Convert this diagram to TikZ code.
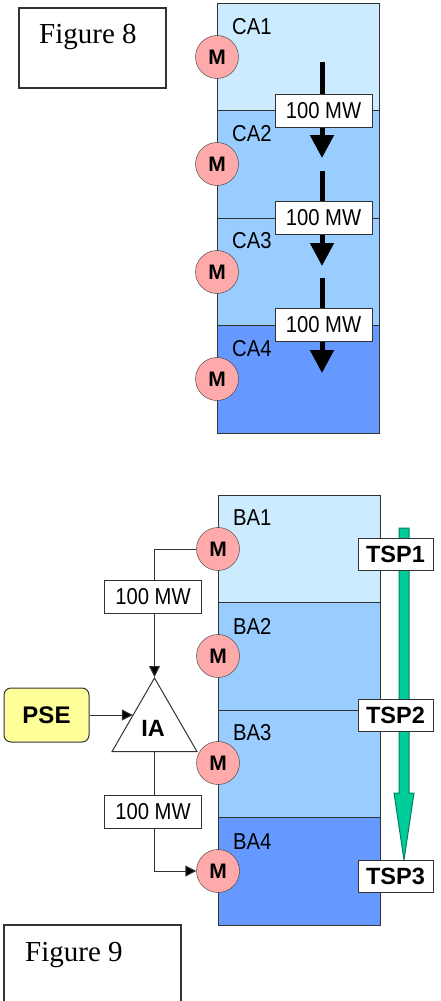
\documentclass[tikz,border=0pt]{standalone}
\usepackage{fontspec}
\setmainfont{Liberation Serif}
\setsansfont{Liberation Sans}
\newfontfamily\narrowsans[FakeStretch=0.88]{Liberation Sans}
\usetikzlibrary{arrows.meta,positioning,shapes.geometric,calc}
\definecolor{bandlight}{HTML}{CCEBFF}
\definecolor{bandmid}{HTML}{99CCFF}
\definecolor{banddark}{HTML}{6699FF}
\definecolor{meterpink}{HTML}{FFAAAA}
\definecolor{tspgreen}{HTML}{00CC99}
\definecolor{tspedge}{HTML}{008060}
\definecolor{psefill}{HTML}{FFFF99}
\definecolor{edge}{HTML}{333333}

\begin{document}
\begin{tikzpicture}[x=1pt,y=-1pt,
  meter/.style={circle,draw=edge,fill=meterpink,minimum size=43pt,inner sep=0pt,
    font=\sffamily\bfseries\fontsize{21}{21}\selectfont},
  tag/.style={draw=edge,fill=white,minimum width=97pt,minimum height=33pt,inner sep=0pt,
    font=\narrowsans\fontsize{23}{23}\selectfont},
  tsptag/.style={draw=edge,fill=white,minimum width=75pt,minimum height=32pt,inner sep=0pt,
    font=\sffamily\bfseries\fontsize{23.5}{23.5}\selectfont},
  area/.style={anchor=west,inner sep=0pt,font=\narrowsans\fontsize{23}{23}\selectfont},
  band/.style={draw=edge,line width=1pt},
  flow/.style={line width=5pt,-{Triangle[width=23pt,length=23pt]}},
  link/.style={draw=edge,line width=1pt,-{Triangle[width=11pt,length=11pt,fill=black]}},
  figlabel/.style={anchor=west,inner sep=0pt,font=\fontsize{29}{29}\selectfont}]
\clip (0,0) rectangle (440,1001);

% Figure 8
\draw[edge,line width=1.5pt] (19,8) rectangle (166,88);
\node[figlabel] (fig8) at (39,37) {Figure 8};

\filldraw[band,fill=bandlight] (217,3) rectangle (379,110);
\filldraw[band,fill=bandmid] (217,110) rectangle (379,218);
\filldraw[band,fill=bandmid] (217,218) rectangle (379,325);
\filldraw[band,fill=banddark] (217,325) rectangle (379,433);

\node[area] (ca1) at (232,27) {CA1};
\node[area] (ca2) at (232,134) {CA2};
\node[area] (ca3) at (232,241) {CA3};
\node[area] (ca4) at (232,349) {CA4};

\node[meter] (cm1) at (217,57) {M};
\node[meter] (cm2) at (217,164) {M};
\node[meter] (cm3) at (217,272) {M};
\node[meter] (cm4) at (217,379) {M};

\coordinate (fs1) at (322,62);
\coordinate (fe1) at (322,158);
\coordinate (fs2) at (322,171);
\coordinate (fe2) at (322,266);
\coordinate (fs3) at (322,278);
\coordinate (fe3) at (322,373);
\draw[flow] (fs1) -- (fe1);
\draw[flow] (fs2) -- (fe2);
\draw[flow] (fs3) -- (fe3);
\node[tag] (ct1) at (323.5,110.5) {100 MW};
\node[tag] (ct2) at (323.5,218) {100 MW};
\node[tag] (ct3) at (323.5,325) {100 MW};

% Figure 9
\filldraw[band,fill=bandlight] (218,495) rectangle (380,602);
\filldraw[band,fill=bandmid] (218,602) rectangle (380,710);
\filldraw[band,fill=bandmid] (218,710) rectangle (380,817);
\filldraw[band,fill=banddark] (218,817) rectangle (380,925);

\node[area] (ba1) at (233,518) {BA1};
\node[area] (ba2) at (233,626) {BA2};
\node[area] (ba3) at (233,733) {BA3};
\node[area] (ba4) at (233,842) {BA4};

\filldraw[fill=tspgreen,draw=tspedge,line width=1pt]
  (399,528) -- (409,528) -- (409,793) -- (414,793) -- (404,860)
  -- (394,793) -- (399,793) -- cycle;
\node[tsptag] (tsp1) at (395.5,554) {TSP1};
\node[tsptag] (tsp2) at (395.5,715) {TSP2};
\node[tsptag] (tsp3) at (395.5,876.5) {TSP3};

\node[draw=edge,line width=1pt,regular polygon,regular polygon sides=3,
  minimum size=98pt,inner sep=0pt,fill=white] (ia) at (154.5,727) {};
\node[font=\sffamily\bfseries\fontsize{23.5}{23.5}\selectfont] (ialabel) at (153,728) {IA};
\node[draw=edge,line width=1pt,rounded corners=7pt,fill=psefill,minimum width=85pt,
  minimum height=54pt,inner sep=0pt,
  font=\sffamily\bfseries\fontsize{24}{24}\selectfont] (pse) at (46.5,715) {PSE};

\node[meter] (bm1) at (218,549) {M};
\node[meter] (bm2) at (218,656) {M};
\node[meter] (bm3) at (218,763) {M};
\node[meter] (bm4) at (218,871) {M};

\coordinate (iain) at ($(ia.corner 1)!0.5!(ia.corner 2)$);
\draw[link] (pse.east) -- (pse.east -| iain);
\draw[link] (bm1.west) -| (ia.corner 1);
\draw[link] (ia.south) |- (bm4.west);
\node[tag] (bt1) at (153,597) {100 MW};
\node[tag] (bt2) at (153,812) {100 MW};

\draw[edge,line width=1.5pt] (4,925) rectangle (181,1010);
\node[figlabel] (fig9) at (25,955) {Figure 9};
\end{tikzpicture}
\end{document}
